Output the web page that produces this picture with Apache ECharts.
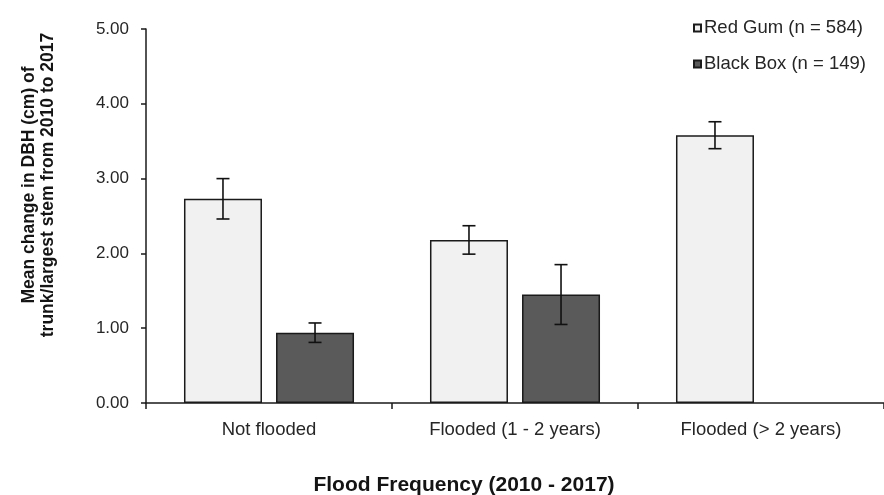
<!DOCTYPE html>
<html>
<head>
<meta charset="utf-8">
<title>Mean change in DBH by flood frequency</title>
<script src="https://cdn.jsdelivr.net/npm/echarts@6/dist/echarts.min.js"></script>
<style>
  html, body { margin: 0; padding: 0; background: #ffffff; }
  #chart { width: 884px; height: 495px; }
</style>
</head>
<body>
<div id="chart"></div>
<script>
// Flood frequency classes (2010 - 2017)
const categories = ['Not flooded', 'Flooded (1 - 2 years)', 'Flooded (> 2 years)'];

// Mean change in DBH (cm) and standard error for each species
const redGumMean = [2.73, 2.18, 3.58];
const redGumErr = [0.27, 0.19, 0.18];
const blackBoxMean = [0.94, 1.45, null];
const blackBoxErr = [0.13, 0.40, null];

const seriesNames = ['Red Gum (n = 584)', 'Black Box (n = 149)'];
const yTicks = [0, 1, 2, 3, 4, 5];

// Bar geometry shared by the bars and their error whiskers
const BAR_WIDTH = 78;
const BAR_GAP = 0.18;
const FONT = '"Liberation Sans", Arial, sans-serif';
const INK = '#1a1a1a';

function whiskerData(means, errs) {
  const out = [];
  means.forEach(function (m, i) {
    if (m === null || errs[i] === null) return;
    out.push([i, m - errs[i], m + errs[i]]);
  });
  return out;
}

function whiskerSeries(means, errs, offset) {
  return {
    type: 'custom',
    z: 5,
    silent: true,
    data: whiskerData(means, errs),
    renderItem: function (params, api) {
      const lo = api.coord([api.value(0), api.value(1)]);
      const hi = api.coord([api.value(0), api.value(2)]);
      const x = lo[0] + offset;
      const cap = 6.5;
      const style = { stroke: '#111', lineWidth: 1.6, fill: null };
      return {
        type: 'group',
        children: [
          { type: 'line', shape: { x1: x, y1: lo[1], x2: x, y2: hi[1] }, style: style },
          { type: 'line', shape: { x1: x - cap, y1: lo[1], x2: x + cap, y2: lo[1] }, style: style },
          { type: 'line', shape: { x1: x - cap, y1: hi[1], x2: x + cap, y2: hi[1] }, style: style }
        ]
      };
    }
  };
}

const halfStep = (BAR_WIDTH + BAR_WIDTH * BAR_GAP) / 2;

const chart = echarts.init(document.getElementById('chart'), null, { renderer: 'canvas' });

chart.setOption({
  animation: false,
  backgroundColor: '#ffffff',
  textStyle: { fontFamily: FONT },
  grid: { left: 146, right: -4, top: 29, bottom: 92, containLabel: false },
  legend: {
    data: seriesNames,
    orient: 'vertical',
    left: 693,
    top: 18,
    padding: 0,
    itemWidth: 7,
    itemHeight: 7,
    itemGap: 16,
    icon: 'rect',
    selectedMode: false,
    textStyle: { fontFamily: FONT, fontSize: 18.5, lineHeight: 20, color: '#262626', padding: [0, 0, 0, -2] }
  },
  xAxis: {
    type: 'category',
    data: categories,
    boundaryGap: true,
    axisLine: { show: true, lineStyle: { color: INK, width: 1.5 } },
    axisTick: { show: true, alignWithLabel: false, length: 6, lineStyle: { color: INK, width: 1.5 } },
    axisLabel: { fontFamily: FONT, fontSize: 18.5, color: '#262626', margin: 17, interval: 0 },
    splitLine: { show: false }
  },
  yAxis: {
    type: 'value',
    min: yTicks[0],
    max: yTicks[yTicks.length - 1],
    interval: 1,
    axisLine: { show: true, lineStyle: { color: INK, width: 1.5 } },
    axisTick: { show: true, inside: false, length: 5, lineStyle: { color: INK, width: 1.5 } },
    axisLabel: {
      fontFamily: FONT, fontSize: 17, color: '#262626', margin: 17,
      formatter: function (v) { return v.toFixed(2); }
    },
    splitLine: { show: false }
  },
  series: [
    {
      name: seriesNames[0],
      type: 'bar',
      data: redGumMean,
      barWidth: BAR_WIDTH,
      barGap: (BAR_GAP * 100) + '%',
      itemStyle: { color: '#f1f1f1', borderColor: INK, borderWidth: 1.5 }
    },
    {
      name: seriesNames[1],
      type: 'bar',
      data: blackBoxMean,
      barWidth: BAR_WIDTH,
      barGap: (BAR_GAP * 100) + '%',
      itemStyle: { color: '#5a5a5a', borderColor: INK, borderWidth: 1.5 }
    },
    whiskerSeries(redGumMean, redGumErr, -halfStep),
    whiskerSeries(blackBoxMean, blackBoxErr, halfStep)
  ],
  graphic: [
    {
      type: 'text',
      x: 39,
      y: 185,
      rotation: Math.PI / 2,
      style: {
        text: 'Mean change in DBH (cm) of\ntrunk/largest stem from 2010 to 2017',
        font: 'bold 17.5px ' + FONT,
        fill: '#141414',
        align: 'center',
        verticalAlign: 'middle',
        lineHeight: 19
      }
    },
    {
      type: 'text',
      x: 464,
      y: 485,
      style: {
        text: 'Flood Frequency (2010 - 2017)',
        font: 'bold 21px ' + FONT,
        fill: '#141414',
        align: 'center',
        verticalAlign: 'middle'
      }
    }
  ]
});
</script>
</body>
</html>
